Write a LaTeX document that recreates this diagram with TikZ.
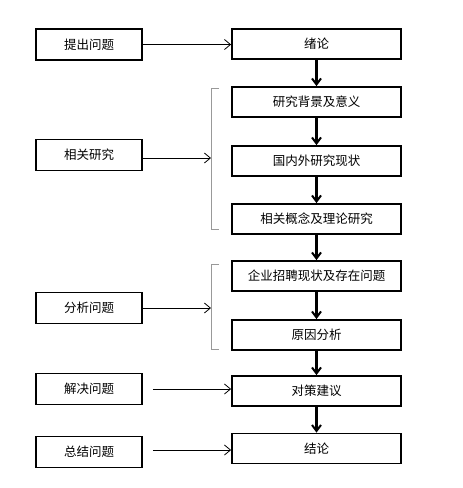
\documentclass[tikz,border=0pt]{standalone}
\usepackage{fontspec}
\newfontfamily\cjk{Noto Sans CJK SC}
\usetikzlibrary{arrows.meta,positioning}

\begin{document}
\begin{tikzpicture}[
    x=1pt, y=-1pt,
    every node/.style={font=\cjk\fontsize{12.5}{15}\selectfont},
    lbox/.style={rectangle, draw, line width=1.8pt, minimum width=106pt, minimum height=31pt, inner sep=0pt},
    rbox/.style={rectangle, draw, line width=1.8pt, minimum width=169pt, minimum height=30pt, inner sep=0pt},
    arrow/.style={-{Straight Barb[length=6pt,width=10pt]}, line width=0.8pt},
    flow/.style={-{Straight Barb[length=6pt,width=9pt,line width=2pt]}, line width=2.2pt},
    brace/.style={draw=gray!80, line width=1pt}
]
    \useasboundingbox (0,0) rectangle (463,488);

    % right column
    \node[rbox] (intro) at (316.5,44) {绪论};
    \node[rbox] (bg) at (316.5,102) {研究背景及意义};
    \node[rbox] (status) at (316.5,161) {国内外研究现状};
    \node[rbox] (theory) at (316.5,219) {相关概念及理论研究};
    \node[rbox] (recruit) at (316.5,276) {企业招聘现状及存在问题};
    \node[rbox] (cause) at (316.5,335) {原因分析};
    \node[rbox] (advice) at (316.5,391) {对策建议};
    \node[rbox] (concl) at (316.5,448.5) {结论};

    % left column
    \node[lbox] (raise) at (89,44.5) {提出问题};
    \node[lbox] (related) at (89,155) {相关研究};
    \node[lbox] (analyse) at (89,308) {分析问题};
    \node[lbox] (solve) at (89,389) {解决问题};
    \node[lbox] (sum) at (89,452) {总结问题};

    % brackets
    \coordinate (b1) at (211,158);
    \coordinate (b2) at (211,308);
    \draw[brace] (219,88) -- (211,88) -- (211,229) -- (219,229);
    \draw[brace] (219,264) -- (211,264) -- (211,349) -- (219,349);

    \foreach \a/\b in {intro/bg, bg/status, status/theory, theory/recruit,
                       recruit/cause, cause/advice, advice/concl}
        \draw[flow] (\a) -- (\b);

    \draw[arrow] (raise) -- (intro.west |- raise);
    \draw[arrow] (related.east |- b1) -- (b1);
    \draw[arrow] (analyse) -- (b2);
    \draw[arrow] ([xshift=10pt]solve.east) -- (advice.west |- solve);
    \draw[arrow] ([xshift=10pt]sum.east |- 0,450) -- (concl.west |- 0,450);
\end{tikzpicture}
\end{document}
